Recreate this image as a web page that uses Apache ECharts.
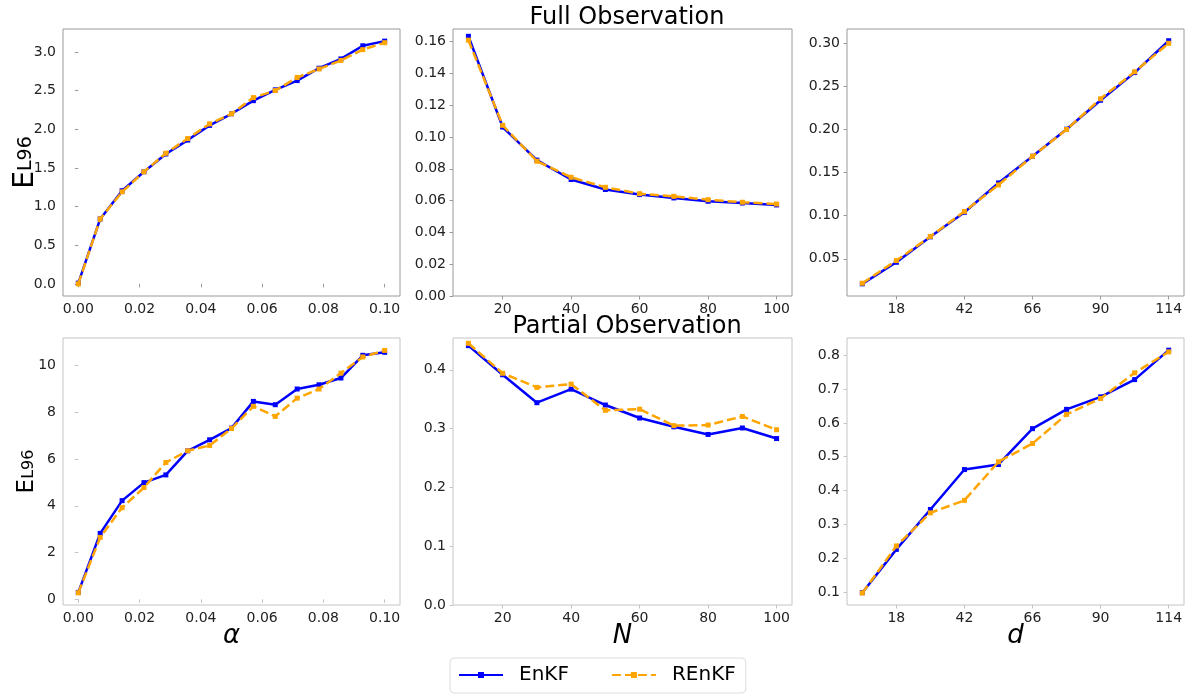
<!DOCTYPE html>
<html>
<head>
<meta charset="utf-8">
<script src="https://cdn.jsdelivr.net/npm/echarts@6/dist/echarts.min.js"></script>
<style>html,body{margin:0;padding:0;background:#fff}#c{width:1189px;height:697px}</style>
</head>
<body>
<div id="c"></div>
<script>
// ---- x values ----
const alphaX = [0, 0.00714, 0.01429, 0.02143, 0.02857, 0.03571, 0.04286, 0.05, 0.05714, 0.06429, 0.07143, 0.07857, 0.08571, 0.09286, 0.1];
const nX = [10, 20, 30, 40, 50, 60, 70, 80, 90, 100];
const dX = [6, 18, 30, 42, 54, 66, 78, 90, 102, 114];

// ---- Full observation ----
const fullAlphaEnKF  = [0.01, 0.84, 1.205, 1.45, 1.68, 1.86, 2.05, 2.20, 2.37, 2.51, 2.63, 2.79, 2.91, 3.08, 3.14];
const fullAlphaREnKF = [0.00, 0.84, 1.19, 1.45, 1.69, 1.88, 2.07, 2.20, 2.41, 2.50, 2.67, 2.78, 2.89, 3.03, 3.12];
const fullNEnKF  = [0.1634, 0.1063, 0.0855, 0.0733, 0.0670, 0.0638, 0.0617, 0.0596, 0.0585, 0.0573];
const fullNREnKF = [0.1610, 0.1074, 0.0848, 0.0747, 0.0684, 0.0644, 0.0627, 0.0606, 0.0590, 0.0579];
const fullDEnKF  = [0.0210, 0.0460, 0.0755, 0.1040, 0.1380, 0.1690, 0.2004, 0.2340, 0.2660, 0.3030];
const fullDREnKF = [0.0217, 0.0480, 0.0760, 0.1050, 0.1357, 0.1690, 0.2000, 0.2357, 0.2670, 0.3000];

// ---- Partial observation ----
const partAlphaEnKF  = [0.30, 2.82, 4.22, 4.99, 5.32, 6.35, 6.82, 7.32, 8.46, 8.32, 8.99, 9.17, 9.46, 10.43, 10.56];
const partAlphaREnKF = [0.28, 2.65, 3.92, 4.78, 5.85, 6.35, 6.58, 7.30, 8.25, 7.82, 8.60, 8.99, 9.67, 10.36, 10.64];
const partNEnKF  = [0.441, 0.3915, 0.344, 0.367, 0.340, 0.318, 0.303, 0.290, 0.301, 0.283];
const partNREnKF = [0.445, 0.394, 0.370, 0.3756, 0.331, 0.333, 0.305, 0.306, 0.3206, 0.298];
const partDEnKF  = [0.098, 0.226, 0.344, 0.462, 0.477, 0.583, 0.640, 0.677, 0.728, 0.815];
const partDREnKF = [0.097, 0.236, 0.334, 0.371, 0.485, 0.539, 0.625, 0.672, 0.748, 0.810];

// ---- tick labels ----
const alphaTicks = [0, 0.02, 0.04, 0.06, 0.08, 0.10];
const nTicks = [20, 40, 60, 80, 100];
const dTicks = [18, 42, 66, 90, 114];
const yTicksFullAlpha = [0, 0.5, 1.0, 1.5, 2.0, 2.5, 3.0];
const yTicksFullN = [0, 0.02, 0.04, 0.06, 0.08, 0.10, 0.12, 0.14, 0.16];
const yTicksFullD = [0.05, 0.10, 0.15, 0.20, 0.25, 0.30];
const yTicksPartAlpha = [0, 2, 4, 6, 8, 10];
const yTicksPartN = [0, 0.1, 0.2, 0.3, 0.4];
const yTicksPartD = [0.1, 0.2, 0.3, 0.4, 0.5, 0.6, 0.7, 0.8];

const titles = ['Full Observation', 'Partial Observation'];
const seriesNames = ['EnKF', 'REnKF'];
const xNames = ['\u03b1', 'N', 'd'];

const FONT = 'DejaVu Sans';
const zip = (xs, ys) => xs.map((x, i) => [x, ys[i]]);

const grids = [
  {left: 63, top: 29, width: 337, height: 267},
  {left: 453, top: 29, width: 339, height: 267},
  {left: 847, top: 29, width: 337, height: 267},
  {left: 63, top: 338, width: 337, height: 267},
  {left: 453, top: 338, width: 339, height: 267},
  {left: 847, top: 338, width: 337, height: 267}
].map((g, i) => Object.assign(g, {show: true, borderWidth: 1, borderColor: i < 3 ? '#9a9a9a' : '#c4c4c4', backgroundColor: 'transparent'}));

const xSpecs = [
  {min: -0.005, max: 0.105, ticks: alphaTicks, dec: 2},
  {min: 5.5, max: 104.5, ticks: nTicks, dec: 0},
  {min: 0.6, max: 119.4, ticks: dTicks, dec: 0}
];
const ySpecs = [
  {min: -0.157, max: 3.297, ticks: yTicksFullAlpha, dec: 1},
  {min: 0, max: 0.168, ticks: yTicksFullN, dec: 2},
  {min: 0.0069, max: 0.3166, ticks: yTicksFullD, dec: 2},
  {min: -0.24, max: 11.17, ticks: yTicksPartAlpha, dec: 0},
  {min: 0, max: 0.454, ticks: yTicksPartN, dec: 1},
  {min: 0.0615, max: 0.851, ticks: yTicksPartD, dec: 1}
];

const labelStyle = {fontFamily: FONT, fontSize: 14, color: '#222'};

const xAxes = grids.map((g, i) => {
  const s = xSpecs[i % 3];
  const ax = {
    type: 'value', gridIndex: i, min: s.min, max: s.max,
    axisLine: {show: false},
    splitLine: {show: false},
    axisTick: {show: true, length: 3.5, lineStyle: {color: g.borderColor}, customValues: s.ticks},
    axisLabel: Object.assign({margin: 6, customValues: s.ticks, formatter: v => Number(v).toFixed(s.dec)}, labelStyle)
  };
  if (i >= 3) {
    ax.name = xNames[i % 3];
    ax.nameLocation = 'middle';
    ax.nameGap = 18;
    ax.nameMoveOverlap = false;
    ax.nameTextStyle = {fontFamily: FONT, fontSize: 26, fontStyle: 'italic', color: '#000', verticalAlign: 'top'};
  }
  return ax;
});

const yAxes = grids.map((g, i) => {
  const s = ySpecs[i];
  const ax = {
    type: 'value', gridIndex: i, min: s.min, max: s.max,
    axisLine: {show: false},
    splitLine: {show: false},
    axisTick: {show: true, length: 3.5, lineStyle: {color: g.borderColor}, customValues: s.ticks},
    axisLabel: Object.assign({margin: 7, customValues: s.ticks, formatter: v => Number(v).toFixed(s.dec)}, labelStyle)
  };
  if (i === 0 || i === 3) {
    const big = i === 0 ? 28 : 23;
    const sub = i === 0 ? 19 : 16;
    ax.name = '{e|E}{s|L96}';
    ax.nameLocation = 'middle';
    ax.nameRotate = 90;
    ax.nameGap = i === 0 ? 21 : 22;
    ax.nameMoveOverlap = false;
    ax.nameTextStyle = {
      rich: {
        e: {fontFamily: FONT, fontSize: big, color: '#000', lineHeight: big + 2, verticalAlign: 'top'},
        s: {fontFamily: FONT, fontSize: sub, color: '#000', lineHeight: sub, verticalAlign: 'top', padding: [5, 0, 0, 0]}
      }
    };
  }
  return ax;
});

const panels = [
  [alphaX, fullAlphaEnKF, fullAlphaREnKF],
  [nX, fullNEnKF, fullNREnKF],
  [dX, fullDEnKF, fullDREnKF],
  [alphaX, partAlphaEnKF, partAlphaREnKF],
  [nX, partNEnKF, partNREnKF],
  [dX, partDEnKF, partDREnKF]
];

const series = [];
panels.forEach((p, i) => {
  series.push({
    name: seriesNames[0], type: 'line', xAxisIndex: i, yAxisIndex: i,
    data: zip(p[0], p[1]), symbol: 'rect', symbolSize: 5,
    lineStyle: {color: '#0000ff', width: 2.5},
    itemStyle: {color: '#0000ff'}, z: 2
  });
  series.push({
    name: seriesNames[1], type: 'line', xAxisIndex: i, yAxisIndex: i,
    data: zip(p[0], p[2]), symbol: 'rect', symbolSize: 5,
    lineStyle: {color: '#ffa500', width: 2.5, type: [9, 4]},
    itemStyle: {color: '#ffa500'}, z: 3
  });
});

const chart = echarts.init(document.getElementById('c'), null, {renderer: 'canvas'});
chart.setOption({
  animation: false,
  backgroundColor: '#fff',
  title: [
    {text: titles[0], left: 622, textAlign: 'center', top: 1, textStyle: {fontFamily: FONT, fontSize: 24, fontWeight: 'normal', color: '#000'}},
    {text: titles[1], left: 622, textAlign: 'center', top: 310, textStyle: {fontFamily: FONT, fontSize: 24, fontWeight: 'normal', color: '#000'}}
  ],
  legend: {
    data: seriesNames,
    left: 450, top: 658,
    orient: 'horizontal',
    itemWidth: 44, itemHeight: 7.5, itemGap: 42,
    padding: [7, 10, 8, 8],
    borderColor: '#dddddd', borderWidth: 1, borderRadius: 4,
    textStyle: {fontFamily: FONT, fontSize: 20, color: '#000', padding: [0, 0, 0, 11]}
  },
  grid: grids,
  xAxis: xAxes,
  yAxis: yAxes,
  series: series
});
</script>
</body>
</html>
